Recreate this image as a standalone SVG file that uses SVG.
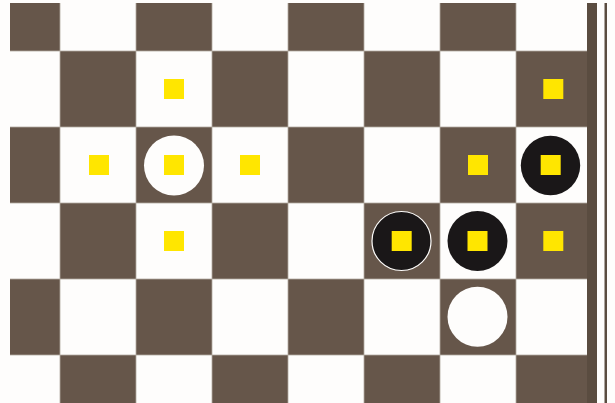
<svg xmlns="http://www.w3.org/2000/svg" width="615" height="403" viewBox="0 0 615 403">
<defs>
<style>
.d{fill:#66564a}
.w{fill:#fefdfc}
.y{fill:#ffe600}
.g{stroke:#b3aaa1;stroke-width:0.8;fill:none}
.bp{fill:#1a1718}
.wp{fill:#fefdfc}
</style>
<clipPath id="bc"><rect x="10" y="3" width="577" height="400"/></clipPath>
</defs>
<rect x="0" y="0" width="615" height="403" fill="#fefdfc"/>
<g id="board" clip-path="url(#bc)">
<rect x="10" y="3" width="577" height="400" class="w"/>
<!-- row0 y -25..51 (visible 3..51) dark at even cols -->
<rect class="d" x="-16" y="-25" width="76" height="76"/>
<rect class="d" x="136" y="-25" width="76" height="76"/>
<rect class="d" x="288" y="-25" width="76" height="76"/>
<rect class="d" x="440" y="-25" width="76" height="76"/>
<!-- row1 odd -->
<rect class="d" x="60" y="51" width="76" height="76"/>
<rect class="d" x="212" y="51" width="76" height="76"/>
<rect class="d" x="364" y="51" width="76" height="76"/>
<rect class="d" x="516" y="51" width="76" height="76"/>
<!-- row2 even -->
<rect class="d" x="-16" y="127" width="76" height="76"/>
<rect class="d" x="136" y="127" width="76" height="76"/>
<rect class="d" x="288" y="127" width="76" height="76"/>
<rect class="d" x="440" y="127" width="76" height="76"/>
<!-- row3 odd -->
<rect class="d" x="60" y="203" width="76" height="76"/>
<rect class="d" x="212" y="203" width="76" height="76"/>
<rect class="d" x="364" y="203" width="76" height="76"/>
<rect class="d" x="516" y="203" width="76" height="76"/>
<!-- row4 even -->
<rect class="d" x="-16" y="279" width="76" height="76"/>
<rect class="d" x="136" y="279" width="76" height="76"/>
<rect class="d" x="288" y="279" width="76" height="76"/>
<rect class="d" x="440" y="279" width="76" height="76"/>
<!-- row5 odd -->
<rect class="d" x="60" y="355" width="76" height="76"/>
<rect class="d" x="212" y="355" width="76" height="76"/>
<rect class="d" x="364" y="355" width="76" height="76"/>
<rect class="d" x="516" y="355" width="76" height="76"/>
<path class="g" d="M60 3V403M136 3V403M212 3V403M288 3V403M364 3V403M440 3V403M516 3V403M10 51H587M10 127H587M10 203H587M10 279H587M10 355H587"/>
</g>
<g id="frame">
<rect x="587" y="3" width="10" height="400" fill="#5a4c40"/>
<rect x="604.5" y="3" width="2.5" height="400" fill="#5a4c40"/>
</g>
<g id="pieces">
<g id="white-1"><circle class="wp" cx="174" cy="165.5" r="30"/></g>
<g id="white-2"><circle class="wp" cx="477.5" cy="316.7" r="30"/></g>
<g id="black-1"><circle class="bp" cx="401.5" cy="241" r="29.5" stroke="#fefdfc" stroke-width="1.2"/></g>
<g id="black-2"><circle class="bp" cx="477.5" cy="241" r="30"/></g>
<g id="black-3"><circle class="bp" cx="550.5" cy="165.5" r="29.7"/></g>
</g>
<g id="markers">
<rect class="y" x="164" y="79" width="20" height="20"/>
<rect class="y" x="543.3" y="79" width="20" height="20"/>
<rect class="y" x="89" y="155" width="20" height="20"/>
<rect class="y" x="164" y="155" width="20" height="20"/>
<rect class="y" x="240" y="155" width="20" height="20"/>
<rect class="y" x="468" y="155" width="20" height="20"/>
<rect class="y" x="540.7" y="155" width="20" height="20"/>
<rect class="y" x="164" y="231" width="20" height="20"/>
<rect class="y" x="391.7" y="231" width="20" height="20"/>
<rect class="y" x="467.5" y="231" width="20" height="20"/>
<rect class="y" x="543.3" y="231" width="20" height="20"/>
</g>
</svg>
